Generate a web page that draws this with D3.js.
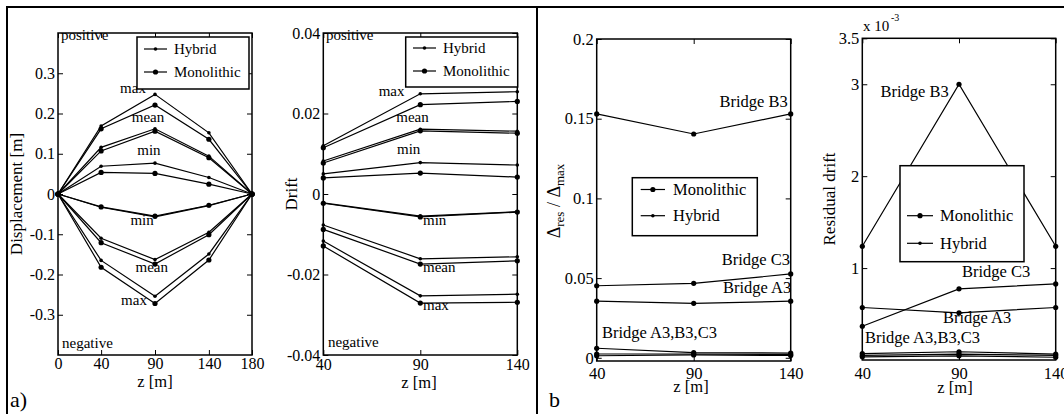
<!DOCTYPE html>
<html><head><meta charset="utf-8">
<script src="https://cdn.jsdelivr.net/npm/d3@7"></script>
<style>body{margin:0;background:#fff}text{font-family:"Liberation Serif","DejaVu Serif",serif;fill:#000}</style>
</head><body><svg id="c" width="1064" height="414"></svg>
<script>
// ---------- DATA ----------
// Panel a-left: displacement [m] along z
const zDisp = [0, 40, 90, 140, 180];
const dispHybrid = [
  [0, 0.169, 0.2475, 0.152, 0],   // max positive
  [0, 0.116, 0.162, 0.094, 0],    // mean positive
  [0, 0.069, 0.0767, 0.041, 0],   // min positive
  [0, -0.033, -0.057, -0.029, 0], // min negative
  [0, -0.110, -0.163, -0.095, 0], // mean negative
  [0, -0.165, -0.254, -0.149, 0]  // max negative
];
const dispMono = [
  [0, 0.162, 0.221, 0.136, 0],
  [0, 0.107, 0.156, 0.090, 0],
  [0, 0.0535, 0.051, 0.0244, 0],
  [0, -0.032, -0.055, -0.028, 0],
  [0, -0.121, -0.174, -0.101, 0],
  [0, -0.182, -0.272, -0.164, 0]
];
// Panel a-right: drift along z
const zDrift = [40, 90, 140];
const driftHybrid = [
  [0.0120, 0.0249, 0.0254],
  [0.0082, 0.0161, 0.0156],
  [0.0050, 0.0078, 0.0072],
  [-0.0022, -0.0055, -0.0044],
  [-0.0077, -0.0161, -0.0156],
  [-0.0117, -0.0253, -0.0249]
];
const driftMono = [
  [0.0115, 0.0222, 0.0230],
  [0.0077, 0.0157, 0.0151],
  [0.0040, 0.0052, 0.0042],
  [-0.0023, -0.0057, -0.0045],
  [-0.0088, -0.0174, -0.0166],
  [-0.0129, -0.0271, -0.0269]
];
// Panel b-left: residual / max displacement
const resMono = [
  [0.1530, 0.1404, 0.1530],  // Bridge B3
  [0.0452, 0.0467, 0.0526],  // Bridge C3
  [0.0355, 0.0342, 0.0355]   // Bridge A3
];
const resHybrid = [
  [0.0060, 0.0032, 0.0030],
  [0.0024, 0.0024, 0.0020],
  [0.0013, 0.0018, 0.0015]
];
// Panel b-right: residual drift
const rdMono = [
  [1.237e-3, 3.0e-3, 1.237e-3],   // Bridge B3
  [0.367e-3, 0.774e-3, 0.828e-3], // Bridge C3
  [0.571e-3, 0.513e-3, 0.571e-3]  // Bridge A3
];
const rdHybrid = [
  [0.070e-3, 0.090e-3, 0.065e-3],
  [0.050e-3, 0.065e-3, 0.050e-3],
  [0.035e-3, 0.045e-3, 0.030e-3]
];
// Tick values
const ticksDispX = [0, 40, 90, 140, 180];
const ticksDispY = [-0.3, -0.2, -0.1, 0, 0.1, 0.2, 0.3];
const ticksZ = [40, 90, 140];
const ticksDriftY = [-0.04, -0.02, 0, 0.02, 0.04];
const ticksResY = [0, 0.05, 0.1, 0.15, 0.2];
const ticksRdY = [0.001, 0.002, 0.003, 0.0035];

// ---------- DRAWING ----------
const svg = d3.select('#c');
const R_HYB = 1.8, R_MONO = 2.6;

// frame
svg.append('line').attr('x1',7).attr('x2',1064).attr('y1',7).attr('y2',7).attr('stroke','#000').attr('stroke-width',2);
svg.append('line').attr('x1',7).attr('x2',7).attr('y1',6).attr('y2',414).attr('stroke','#000').attr('stroke-width',2);
svg.append('line').attr('x1',537).attr('x2',537).attr('y1',6).attr('y2',414).attr('stroke','#000').attr('stroke-width',2);

function panel(o){
  const x = d3.scaleLinear().domain(o.xd).range([o.x0,o.x1]);
  const y = d3.scaleLinear().domain(o.yd).range([o.y1,o.y0]);
  const g = svg.append('g');
  const fmtY = o.fmtY || (d=>String(d));
  const ax = g.append('g').attr('transform',`translate(0,${o.y1})`)
    .call(d3.axisBottom(x).tickValues(o.xt).tickSize(-5).tickPadding(o.xpad).tickFormat(d=>String(d)));
  const ay = g.append('g').attr('transform',`translate(${o.x0},0)`)
    .call(d3.axisLeft(y).tickValues(o.yt).tickSize(-5).tickPadding(3).tickFormat(fmtY));
  const at = g.append('g').attr('transform',`translate(0,${o.y0})`)
    .call(d3.axisTop(x).tickValues(o.xt).tickSize(-5).tickFormat(''));
  const ar = g.append('g').attr('transform',`translate(${o.x1},0)`)
    .call(d3.axisRight(y).tickValues(o.yt).tickSize(-5).tickFormat(''));
  [ax,ay,at,ar].forEach(a=>{
    a.select('.domain').remove();
    a.selectAll('line').attr('stroke','#000').attr('stroke-width',1);
    a.selectAll('text').attr('font-family','"Liberation Serif",serif').attr('font-size',o.tickFs||16).attr('fill','#000');
  });
  g.append('rect').attr('x',o.x0).attr('y',o.y0).attr('width',o.x1-o.x0).attr('height',o.y1-o.y0)
    .attr('fill','none').attr('stroke','#000').attr('stroke-width',1.5);
  return {g,x,y};
}

function series(p, xs, ys, r){
  const line = d3.line().x((d,i)=>p.x(xs[i])).y(d=>p.y(d));
  p.g.append('path').attr('d',line(ys)).attr('fill','none').attr('stroke','#000').attr('stroke-width',1.2);
  p.g.selectAll(null).data(ys).enter().append('circle')
    .attr('cx',(d,i)=>p.x(xs[i])).attr('cy',d=>p.y(d)).attr('r',r).attr('fill','#000');
}

function label(p, xv, yv, txt, fs, anchor){
  p.g.append('text').attr('x',p.x(xv)).attr('y',p.y(yv)).attr('font-size',fs)
    .attr('text-anchor',anchor||'start').text(txt);
}

function legend(x, y, w, h, entries, fs){
  const g = svg.append('g');
  g.append('rect').attr('x',x).attr('y',y).attr('width',w).attr('height',h)
    .attr('fill','#fff').attr('stroke','#000').attr('stroke-width',1.5);
  entries.forEach(e=>{
    g.append('line').attr('x1',e.lx0).attr('x2',e.lx1).attr('y1',e.cy).attr('y2',e.cy).attr('stroke','#000').attr('stroke-width',1.2);
    g.append('circle').attr('cx',(e.lx0+e.lx1)/2).attr('cy',e.cy).attr('r',e.r).attr('fill','#000');
    g.append('text').attr('x',e.tx).attr('y',e.cy).attr('dy','0.33em').attr('font-size',fs).text(e.label);
  });
}

function ylabel(x, y, txt, fs){
  svg.append('text').attr('transform',`translate(${x},${y}) rotate(-90)`).attr('text-anchor','middle')
    .attr('font-size',fs).text(txt);
}
function xlabel(x, y, txt, fs){
  svg.append('text').attr('x',x).attr('y',y).attr('text-anchor','middle').attr('font-size',fs).text(txt);
}

// Panel 1
const p1 = panel({x0:58,x1:252,y0:33,y1:355,xd:[0,180],yd:[-0.4,0.4],xt:ticksDispX,yt:ticksDispY,xpad:3});
dispHybrid.forEach(s=>series(p1, zDisp, s, R_HYB));
dispMono.forEach(s=>series(p1, zDisp, s, R_MONO));
label(p1, 2.8, 0.382, 'positive', 15);
label(p1, 3.7, -0.382, 'negative', 15);
label(p1, 69.6, 0.25, 'max', 15, 'middle');
label(p1, 83.5, 0.178, 'mean', 15, 'middle');
label(p1, 84.4, 0.098, 'min', 15, 'middle');
label(p1, 78, -0.078, 'min', 15, 'middle');
label(p1, 87, -0.193, 'mean', 15, 'middle');
label(p1, 70.5, -0.277, 'max', 15, 'middle');
legend(137, 37, 112, 52, [
  {label:'Hybrid', r:R_HYB, cy:49, lx0:144, lx1:167, tx:174},
  {label:'Monolithic', r:R_MONO, cy:72, lx0:144, lx1:167, tx:174}
], 15);
ylabel(22, 194, 'Displacement [m]', 17);
xlabel(155, 387, 'z [m]', 16.5);

// Panel 2
const p2 = panel({x0:323.3,x1:517.3,y0:33,y1:355,xd:[40,140],yd:[-0.04,0.04],xt:ticksZ,yt:ticksDriftY,xpad:4});
driftHybrid.forEach(s=>series(p2, zDrift, s, R_HYB));
driftMono.forEach(s=>series(p2, zDrift, s, R_MONO));
label(p2, 41.4, 0.0383, 'positive', 15);
label(p2, 42.4, -0.038, 'negative', 15);
label(p2, 75.2, 0.0244, 'max', 15, 'middle');
label(p2, 86, 0.0179, 'mean', 15, 'middle');
label(p2, 84, 0.0099, 'min', 15, 'middle');
label(p2, 91.4, -0.0077, 'min', 15);
label(p2, 91.4, -0.0194, 'mean', 15);
label(p2, 91.4, -0.0288, 'max', 15);
legend(405.7, 37, 112, 50, [
  {label:'Hybrid', r:R_HYB, cy:48, lx0:413, lx1:436, tx:443},
  {label:'Monolithic', r:R_MONO, cy:71, lx0:413, lx1:436, tx:443}
], 15);
ylabel(297, 194, 'Drift', 17);
xlabel(419, 388, 'z [m]', 16.5);

// Panel 3
const p3 = panel({x0:596.7,x1:790.7,y0:39,y1:361,xd:[40,140],yd:[-0.002,0.2],xt:ticksZ,yt:ticksResY,xpad:6,tickFs:16.5});
resMono.forEach(s=>series(p3, zDrift, s, R_MONO));
resHybrid.forEach(s=>series(p3, zDrift, s, R_MONO));
label(p3, 138.5, 0.1575, 'Bridge B3', 16.5, 'end');
label(p3, 139.6, 0.0582, 'Bridge C3', 16.5, 'end');
label(p3, 140.3, 0.0408, 'Bridge A3', 16.5, 'end');
label(p3, 42.7, 0.0126, 'Bridge A3,B3,C3', 16.5);
legend(632.3, 177.7, 125, 58, [
  {label:'Monolithic', r:R_MONO, cy:189.5, lx0:640.7, lx1:665, tx:673},
  {label:'Hybrid', r:R_HYB, cy:215.7, lx0:640.7, lx1:665, tx:673}
], 16.5);
{
  const t = svg.append('text').attr('transform','translate(560,201) rotate(-90)').attr('text-anchor','middle').attr('font-size',18);
  t.append('tspan').text('Δ');
  t.append('tspan').attr('font-size',13).attr('dy',4).text('res');
  t.append('tspan').attr('dy',-4).text('  /  Δ');
  t.append('tspan').attr('font-size',13).attr('dy',4).text('max');
}
xlabel(691, 392, 'z [m]', 16.5);

// Panel 4
const p4 = panel({x0:862.3,x1:1055.7,y0:38.3,y1:360,xd:[40,140],yd:[0,0.0035],xt:ticksZ,yt:ticksRdY,xpad:7,tickFs:16.5,
  fmtY:d=>String(+(d*1000).toFixed(2))});
rdMono.forEach(s=>series(p4, zDrift, s, R_MONO));
rdHybrid.forEach(s=>series(p4, zDrift, s, R_MONO));
label(p4, 84.7, 2.862e-3, 'Bridge B3', 16.5, 'end');
label(p4, 91.5, 0.899e-3, 'Bridge C3', 16.5);
label(p4, 81.7, 0.405e-3, 'Bridge A3', 16.5);
label(p4, 41.4, 0.182e-3, 'Bridge A3,B3,C3', 16.5);
legend(900, 165.7, 124, 96, [
  {label:'Monolithic', r:R_MONO, cy:215.7, lx0:907, lx1:933, tx:940},
  {label:'Hybrid', r:R_HYB, cy:243.3, lx0:907, lx1:933, tx:940}
], 16.5);
svg.append('text').attr('x',863).attr('y',31).attr('font-size',15).text('x 10');
svg.append('text').attr('x',891).attr('y',21).attr('font-size',10).text('-3');
ylabel(835, 199, 'Residual drift', 17);
xlabel(955, 393, 'z [m]', 16.5);

// panel letters
svg.append('text').attr('x',10).attr('y',407).attr('font-family','"Liberation Sans",Arial,sans-serif').attr('font-size',22).text('a)');
svg.append('text').attr('x',549).attr('y',407).attr('font-family','"Liberation Sans",Arial,sans-serif').attr('font-size',22).text('b');
</script></body></html>
